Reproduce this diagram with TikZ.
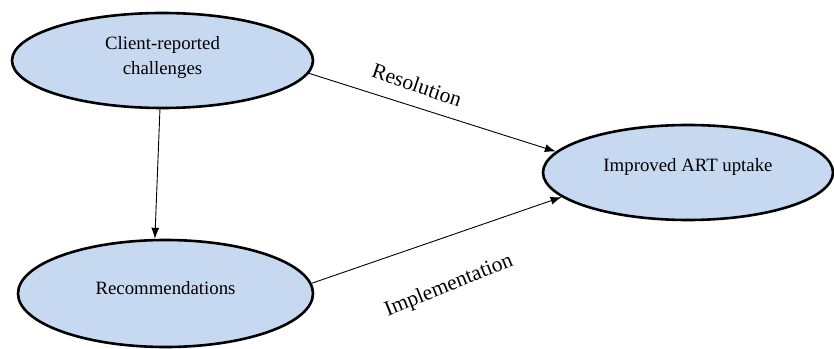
\documentclass[tikz,border=0pt]{standalone}
\usepackage{fontspec}
\setmainfont{Liberation Serif}
\usetikzlibrary{shapes.geometric,arrows.meta}
\definecolor{ellfill}{HTML}{C6D9F1}
\begin{document}
\begin{tikzpicture}[x=1pt,y=1pt,
  ell/.style={ellipse,draw=black,fill=ellfill,line width=2.6pt,inner sep=0pt},
  etext/.style={font=\fontsize{18.8}{24}\selectfont,align=center,inner sep=0pt},
  lbl/.style={font=\fontsize{21.5}{24}\selectfont,inner sep=0pt},
  conn/.style={line width=0.9pt,-{Latex[length=11pt,width=8pt]}}]
\useasboundingbox (0,0) rectangle (834,348);
\node[ell,minimum width=301pt,minimum height=95pt] (top) at (162.5,287.5) {};
\node[ell,minimum width=295pt,minimum height=107pt] (bot) at (165.5,54.5) {};
\node[ell,minimum width=290pt,minimum height=95pt] (art) at (688,175.5) {};
\node[etext] (toptxt) at ([yshift=3pt]top.center) {Client-reported\\[1pt]challenges};
\node[etext] (bottxt) at ([yshift=5.5pt]bot.center) {Recommendations};
\node[etext] (arttxt) at ([yshift=5.5pt]art.center) {Improved ART uptake};
\draw[conn] (top.-5.2) -- (art.171.4);
\draw[conn] (top.-93) -- (bot.101);
\draw[conn] (bot.4.5) -- (art.-169.7);
\node[lbl,rotate=-19] (res) at (417,263) {Resolution};
\node[lbl,rotate=22] (imp) at (449,62) {Implementation};
\end{tikzpicture}
\end{document}
